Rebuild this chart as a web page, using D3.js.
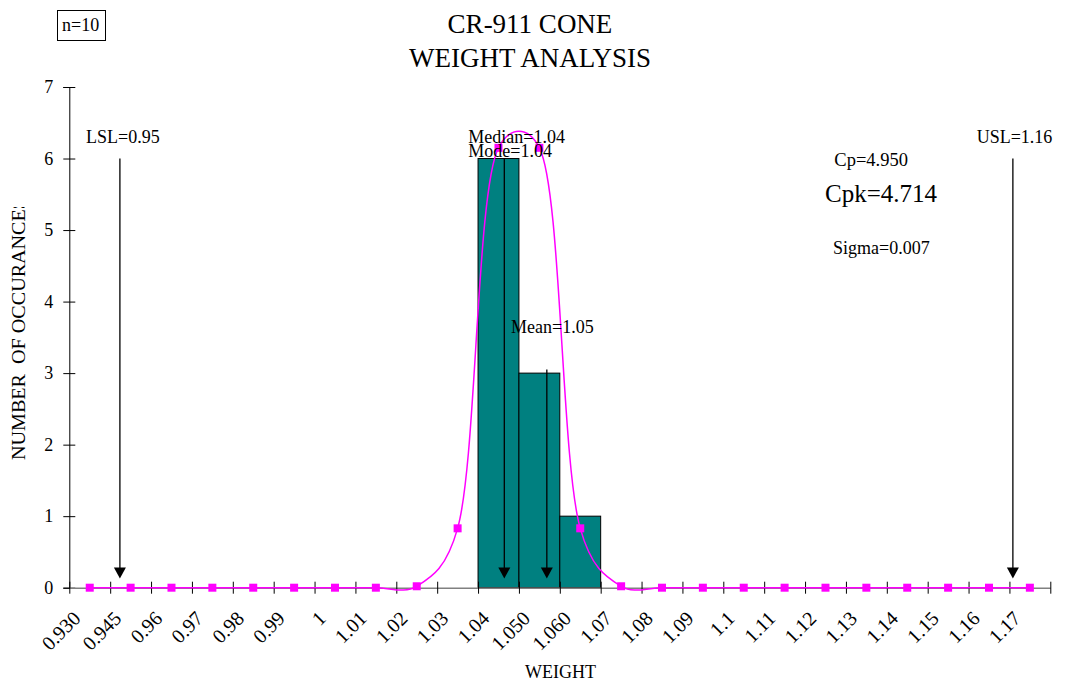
<!DOCTYPE html>
<html>
<head>
<meta charset="utf-8">
<script src="https://cdn.jsdelivr.net/npm/d3@7"></script>
<style>
  body { margin: 0; background: #fff; }
  svg { font-family: "Liberation Serif", "Times New Roman", serif; }
</style>
</head>
<body>
<svg id="chart"></svg>
<script>
// histogram bins (category labels as printed on the axis)
const categories = ['0.930', '0.945', '0.96', '0.97', '0.98', '0.99', '1', '1.01', '1.02', '1.03',
  '1.04', '1.050', '1.060', '1.07', '1.08', '1.09', '1.1', '1.11', '1.12', '1.13', '1.14', '1.15', '1.16', '1.17'];
const counts = [0, 0, 0, 0, 0, 0, 0, 0, 0, 0, 6, 3, 1, 0, 0, 0, 0, 0, 0, 0, 0, 0, 0, 0];
// fitted normal curve
const normalCurve = [0, 0, 0, 0, 0, 0, 0, 0, 0.02, 0.83, 6.15, 6.15, 0.83, 0.02, 0, 0, 0, 0, 0, 0, 0, 0, 0, 0];
const yTicks = [0, 1, 2, 3, 4, 5, 6, 7];

// statistics shown as arrows
const statNames = ['LSL', 'Median', 'Mean', 'USL'];
const statValues = [0.95, 1.0404, 1.0504, 1.16];
const statFrom = [6, 6, 3.05, 6];   // y value where each arrow starts
const modeValue = 1.04;
const sampleSize = 10;
const cp = 4.950, cpk = 4.714, sigma = 0.007;
// weight range of the overlay axis
const weightMin = 0.9381, weightMax = 1.1688;

const W = 1067, H = 685;
const margin = { top: 87, right: 16.7, bottom: 97.3, left: 69.3 };
const width = W - margin.left - margin.right;
const height = H - margin.top - margin.bottom;

const svg = d3.select('#chart').attr('width', W).attr('height', H);
const g = svg.append('g').attr('transform', `translate(${margin.left},${margin.top})`);

const x = d3.scaleBand().domain(categories).range([0, width]).padding(0);
const xEdges = d3.scaleLinear().domain([0, categories.length]).range([0, width]);
const xVal = d3.scaleLinear().domain([weightMin, weightMax]).range([0, width]);
const y = d3.scaleLinear().domain([0, 7]).range([height, 0]);

// titles
svg.append('text').attr('x', 530).attr('y', 33).attr('text-anchor', 'middle')
  .attr('font-size', 27).text('CR-911 CONE');
svg.append('text').attr('x', 530).attr('y', 67).attr('text-anchor', 'middle')
  .attr('font-size', 27).text('WEIGHT ANALYSIS');

// n box
svg.append('rect').attr('x', 57.5).attr('y', 10.5).attr('width', 48).attr('height', 30)
  .attr('fill', 'none').attr('stroke', '#000').attr('stroke-width', 1);
svg.append('text').attr('x', 62).attr('y', 31).attr('font-size', 18).text('n=' + sampleSize);

// bars
g.selectAll('rect.bar')
  .data(categories.map((c, i) => ({ c, v: counts[i] })).filter(d => d.v > 0))
  .join('rect')
  .attr('class', 'bar')
  .attr('x', d => x(d.c))
  .attr('y', d => y(d.v))
  .attr('width', x.bandwidth())
  .attr('height', d => y(0) - y(d.v))
  .attr('fill', '#008080')
  .attr('stroke', '#000')
  .attr('stroke-width', 1);

// y axis
const yAxis = g.append('g')
  .call(d3.axisLeft(y).tickValues(yTicks).tickSize(6).tickPadding(10).tickFormat(d3.format('d')));
yAxis.select('.domain').attr('stroke', '#000');
yAxis.selectAll('.tick line').attr('x1', 6).attr('x2', -6);
yAxis.selectAll('.tick text').attr('font-size', 18).attr('font-family', 'Liberation Serif, serif')
  .attr('fill', '#000');

// x axis: tick marks on bin edges
const xAxis = g.append('g').attr('transform', `translate(0,${height})`)
  .call(d3.axisBottom(xEdges).tickValues(d3.range(categories.length + 1)).tickSize(6).tickSizeOuter(0).tickFormat(''));
xAxis.select('.domain').attr('stroke', '#808080').attr('stroke-width', 1.4);
xAxis.selectAll('.tick line').attr('y1', -6).attr('y2', 6).attr('stroke', '#000');

// x axis labels at bin centres
const xLabels = g.append('g').attr('transform', `translate(0,${height})`)
  .call(d3.axisBottom(x).tickSize(0));
xLabels.select('.domain').remove();
xLabels.selectAll('.tick text')
  .attr('font-size', 20).attr('font-family', 'Liberation Serif, serif').attr('fill', '#000')
  .attr('text-anchor', 'end')
  .attr('x', 0).attr('y', 0).attr('dy', 0)
  .attr('transform', 'translate(-8,32) rotate(-45)');

// normal curve
const pts = categories.map((c, i) => [x(c) + x.bandwidth() / 2, y(normalCurve[i])]);
g.append('path')
  .datum(pts)
  .attr('fill', 'none')
  .attr('stroke', '#ff00ff')
  .attr('stroke-width', 1.5)
  .attr('d', d3.line().curve(d3.curveCatmullRom.alpha(0.3)));
g.selectAll('rect.pt')
  .data(pts)
  .join('rect')
  .attr('class', 'pt')
  .attr('x', d => d[0] - 4)
  .attr('y', d => d[1] - 4)
  .attr('width', 8)
  .attr('height', 8)
  .attr('fill', '#ff00ff');

// arrows
const tipVal = 0.13;
statValues.forEach((v, i) => {
  const ax = xVal(v);
  const tip = y(tipVal);
  g.append('line')
    .attr('x1', ax).attr('x2', ax)
    .attr('y1', y(statFrom[i])).attr('y2', tip - 10)
    .attr('stroke', '#000').attr('stroke-width', 1.3);
  g.append('path')
    .attr('d', `M${ax - 6},${tip - 11}L${ax + 6},${tip - 11}L${ax},${tip}Z`)
    .attr('fill', '#000');
});

// arrow labels
const fmt2 = d3.format('.2f');
const fmt3 = d3.format('.3f');
const notes = [
  { t: 'LSL=' + fmt2(statValues[0]), x: 86, y: 143.3, s: 18 },
  { t: 'Median=' + fmt2(statValues[1]), x: 468.3, y: 142.7, s: 18 },
  { t: 'Mode=' + fmt2(modeValue), x: 468.3, y: 156.7, s: 18 },
  { t: 'Mean=' + fmt2(statValues[2]), x: 511, y: 333, s: 18 },
  { t: 'USL=' + fmt2(statValues[3]), x: 976.7, y: 143.3, s: 18 },
  { t: 'Cp=' + fmt3(cp), x: 834.3, y: 165.7, s: 18.5 },
  { t: 'Cpk=' + fmt3(cpk), x: 825, y: 201.7, s: 25 },
  { t: 'Sigma=' + fmt3(sigma), x: 833, y: 254, s: 18 }
];
svg.selectAll('text.note')
  .data(notes)
  .join('text')
  .attr('class', 'note')
  .attr('x', d => d.x)
  .attr('y', d => d.y)
  .attr('font-size', d => d.s)
  .text(d => d.t);

// axis titles
svg.append('text').attr('x', 560.5).attr('y', 678).attr('text-anchor', 'middle')
  .attr('font-size', 18).text('WEIGHT');

// y title is cut off at the top, as in the original
svg.append('clipPath').attr('id', 'yclip')
  .append('rect').attr('x', 0).attr('y', 207).attr('width', 40).attr('height', 300);
svg.append('g')
  .attr('clip-path', 'url(#yclip)')
  .append('text')
  .attr('transform', 'translate(25,460) rotate(-90)')
  .attr('font-size', 18)
  .attr('textLength', 262)
  .attr('lengthAdjust', 'spacingAndGlyphs')
  .attr('xml:space', 'preserve')
  .style('white-space', 'pre')
  .text('NUMBER  OF OCCURANCES');
</script>
</body>
</html>
